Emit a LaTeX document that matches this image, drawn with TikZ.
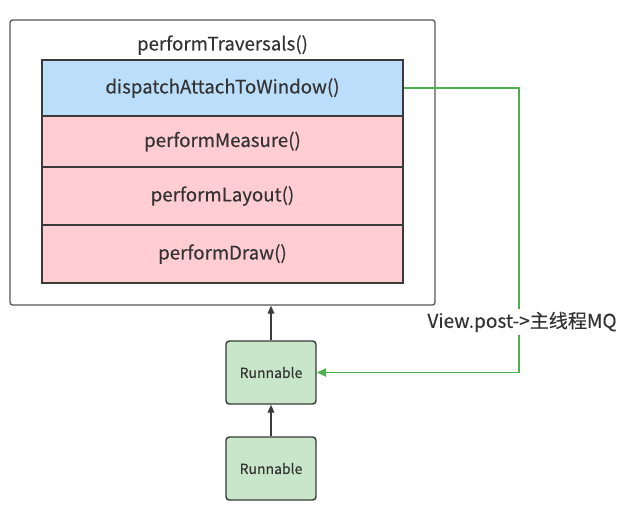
\documentclass[tikz,border=0pt]{standalone}
\usepackage{fontspec}
\setmainfont{Noto Sans CJK SC}[FakeBold=0.3]
\usetikzlibrary{arrows.meta}
\usetikzlibrary{positioning}

\definecolor{textgray}{HTML}{333333}
\definecolor{linegray}{HTML}{3A3A3A}
\definecolor{attachblue}{HTML}{BBDEFB}
\definecolor{stagepink}{HTML}{FFCDD2}
\definecolor{runnablegreen}{HTML}{C8E6C9}
\definecolor{postgreen}{HTML}{4CAF50}

\begin{document}
\begin{tikzpicture}[x=0.75pt,y=-0.75pt,
  every node/.style={text=textgray,inner sep=0pt},
  stage/.style={draw=linegray,line width=1.1pt,minimum width=270.75pt,font=\fontsize{14}{16}\selectfont},
  runbox/.style={draw=linegray,line width=1.1pt,fill=runnablegreen,rounded corners=2.5pt,
    minimum width=67.5pt,minimum height=47.25pt,font=\fontsize{10.5}{12}\selectfont},
  flow/.style={draw=linegray,line width=1.1pt,-{Triangle[length=6pt,width=5pt]}}]
\useasboundingbox (0,0) rectangle (637,514);

%outer frame
\node[draw=linegray!85,line width=1pt,rounded corners=2pt,minimum width=318.75pt,minimum height=213.75pt] (traversals) at (222.5,162.5) {};
\node[font=\fontsize{14}{16}\selectfont] (title) at (222.5,45) {performTraversals()};

%stages
\node[stage,fill=attachblue,minimum height=42pt] (attach) at (222.5,88) {dispatchAttachToWindow()};
\node[stage,fill=stagepink,minimum height=38.25pt] (measure) at (222.5,141.5) {performMeasure()};
\node[stage,fill=stagepink,minimum height=43.5pt] (layout) at (222.5,196) {performLayout()};
\node[stage,fill=stagepink,minimum height=43.5pt] (draw) at (222.5,254) {performDraw()};

%runnables
\node[runbox] (run1) at (271,372.5) {Runnable};
\node[runbox] (run2) at (271,468.5) {Runnable};

%arrows
\draw[flow] (run1.north) -- (run1.north |- traversals.south);
\draw[flow] (run2.north) -- (run1.south);

%post
\draw[draw=postgreen,line width=1.4pt,-{Triangle[length=7pt,width=6pt]}] (attach.east) -- ++(115,0) |- (run1.east);
\node[fill=white,inner xsep=4pt,inner ysep=2pt,font=\fontsize{14.3}{16}\selectfont] (post) at (522,322) {View.post->主线程MQ};
\end{tikzpicture}
\end{document}
